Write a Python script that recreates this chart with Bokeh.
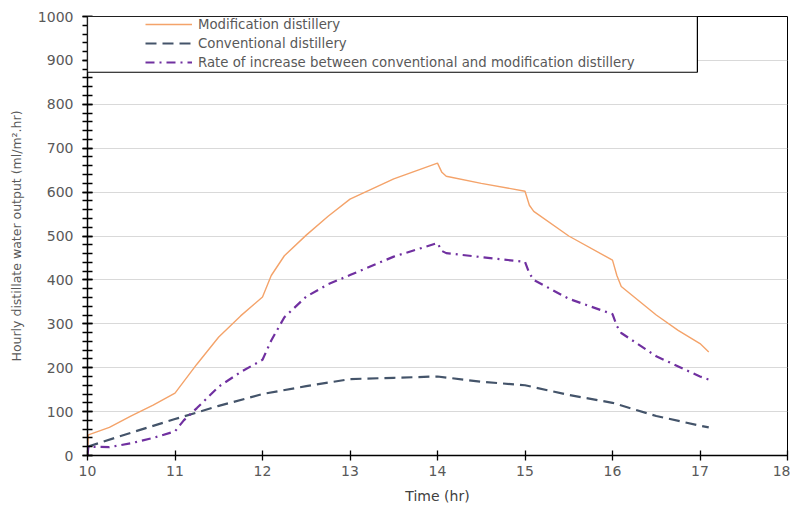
from bokeh.plotting import figure
from bokeh.models import (Range1d, SingleIntervalTicker, Legend, LegendItem,
                          BoxAnnotation)
from bokeh.embed import file_html
from bokeh.resources import INLINE

# ---- data ----
mod_t = [10, 10.01, 10.25, 10.5, 10.75, 11, 11.25, 11.5, 11.75, 12, 12.1, 12.25,
         12.5, 12.75, 13, 13.5, 14, 14.05, 14.1, 14.5, 15, 15.05, 15.1, 15.5, 16,
         16.05, 16.1, 16.5, 16.75, 17, 17.1]
mod_v = [0, 47, 64, 90, 115, 142, 208, 270, 318, 361, 410, 455,
         502, 545, 584, 630, 666, 645, 636, 620, 602, 570, 556, 500, 445,
         410, 385, 320, 285, 255, 236]

conv_t = [10, 10.5, 11, 11.5, 12, 12.5, 13, 13.5, 14, 14.5, 15, 15.5, 16, 16.5, 17, 17.1]
conv_v = [20, 52, 83, 113, 140, 158, 174, 177, 180, 168, 160, 138, 120, 90, 68, 64]

rate_t = [10, 10.01, 10.25, 10.5, 10.75, 11, 11.1, 11.25, 11.5, 11.75, 12, 12.1,
          12.25, 12.5, 12.75, 13, 13.5, 14, 14.05, 14.1, 14.5, 15, 15.05, 15.1,
          15.5, 16, 16.05, 16.1, 16.5, 17, 17.1]
rate_v = [0, 20, 19, 28, 40, 55, 80, 108, 157, 190, 218, 262,
          315, 362, 390, 411, 453, 484, 466, 461, 452, 441, 415, 400,
          357, 322, 295, 279, 226, 180, 173]

series_names = ["Modification distillery", "Conventional distillery",
                "Rate of increase between conventional and modification distillery"]

FONT = "DejaVu Sans"
GRAY = "#595959"

p = figure(width=790, height=506, output_backend="svg", toolbar_location=None,
           x_range=Range1d(10, 18), y_range=Range1d(0, 1000),
           min_border_left=87, min_border_right=3, min_border_top=16, min_border_bottom=50)
p.background_fill_color = "white"
p.border_fill_color = "white"
p.outline_line_color = "#000000"
p.outline_line_width = 1

p.xgrid.grid_line_color = None
p.ygrid.grid_line_color = "#d9d9d9"
p.ygrid.grid_line_width = 1

p.xaxis.ticker = SingleIntervalTicker(interval=1, num_minor_ticks=0)
p.yaxis.ticker = SingleIntervalTicker(interval=100, num_minor_ticks=5)

for ax in (p.xaxis[0], p.yaxis[0]):
    ax.axis_line_color = "black"
    ax.axis_line_width = 1.5
    ax.major_tick_line_color = "black"
    ax.major_tick_line_width = 1.3
    ax.major_tick_in = 5
    ax.major_tick_out = 5
    ax.minor_tick_line_color = "black"
    ax.minor_tick_line_width = 1.3
    ax.minor_tick_in = 5
    ax.minor_tick_out = 5
    ax.major_label_text_font = FONT
    ax.major_label_text_font_size = "14px"
    ax.major_label_text_color = GRAY
    ax.axis_label_text_font = FONT
    ax.axis_label_text_font_style = "normal"

p.xaxis.major_label_standoff = 5
p.yaxis.major_label_standoff = 9
p.xaxis.axis_label = "Time (hr)"
p.xaxis.axis_label_text_font_size = "14px"
p.xaxis.axis_label_text_color = "#404040"
p.xaxis.axis_label_standoff = 9
p.yaxis.axis_label = "Hourly distillate water output (ml/m\u00b2.hr)"
p.yaxis.axis_label_text_font_size = "12.5px"
p.yaxis.axis_label_text_color = GRAY
p.yaxis.axis_label_standoff = 11

r_mod = p.line(mod_t, mod_v, line_color="#F4A36A", line_width=1.4)
r_conv = p.line(conv_t, conv_v, line_color="#44546A", line_width=2.2, line_dash="11 6")
r_rate = p.line(rate_t, rate_v, line_color="#7030A0", line_width=2.2, line_dash="9 5 2 5")

# legend frame
box = BoxAnnotation(left=10, right=16.97, top=1000, bottom=873,
                    fill_color="white", fill_alpha=1, line_color="black",
                    line_alpha=1, line_width=1.2)
p.add_layout(box)

legend = Legend(items=[LegendItem(label=series_names[0], renderers=[r_mod]),
                       LegendItem(label=series_names[1], renderers=[r_conv]),
                       LegendItem(label=series_names[2], renderers=[r_rate])],
                location=(58, 384), padding=0, spacing=1, margin=0,
                glyph_width=47, glyph_height=18, label_height=18, label_standoff=6,
                background_fill_alpha=0, border_line_alpha=0,
                label_text_font="DejaVu Sans", label_text_font_size="13.3px",
                label_text_color=GRAY)
p.add_layout(legend)

open("out.html", "w").write(file_html(p, INLINE))
